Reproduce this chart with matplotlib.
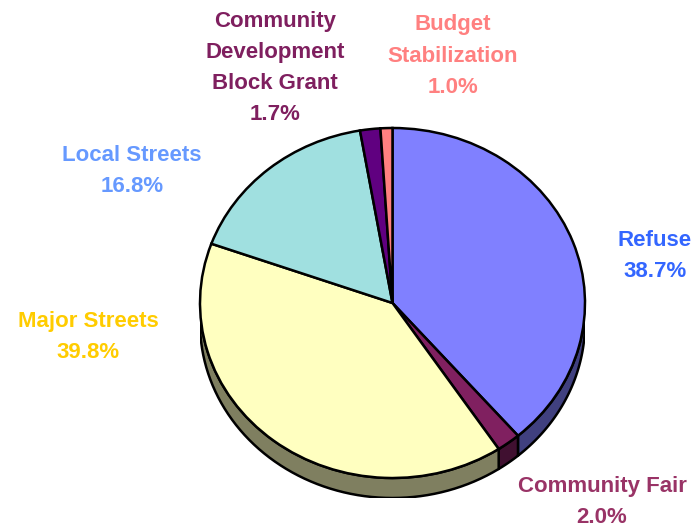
import numpy as np
import matplotlib
matplotlib.use('Agg')
from matplotlib import pyplot as plt
from matplotlib.patches import Polygon

# data
labels = ['Refuse', 'Community Fair', 'Major Streets', 'Local Streets',
          'Community\nDevelopment\nBlock Grant', 'Budget\nStabilization']
shares = [38.7, 2.0, 39.8, 16.8, 1.7, 1.0]
top_colors = ['#8080FF', '#802060', '#FFFFC0', '#A0E0E0', '#600080', '#FF8080']
side_colors = ['#40407F', '#401030', '#7F7F60', '#50706F', '#300040', '#7F4040']
label_colors = ['#3366FF', '#993366', '#FFCC00', '#6699FF', '#7F1F5F', '#FF8080']

W, H = 696, 527
cx, cy = 392.5, 303.0   # ellipse centre in pixels (from top)
rx, ry = 192.5, 175.0
depth = 20.0

fig = plt.figure(figsize=(W / 100, H / 100), dpi=100)
fig.patch.set_facecolor('white')

# pie axes, stretched so the unit circle becomes an ellipse
bottom_px = H - cy - ry - depth
ax = fig.add_axes([(cx - rx) / W, bottom_px / H, 2 * rx / W, (2 * ry + depth) / H])
dd = depth / ry

# side wall (only lower half shows)
cum = np.cumsum([0] + shares) / 100.0
for i in range(len(shares)):
    a_start = 90 - 360 * cum[i]
    a_end = 90 - 360 * cum[i + 1]
    lo = max(a_end, -180)
    hi = min(a_start, 0)
    if lo >= hi:
        continue
    t = np.radians(np.linspace(lo, hi, 60))
    xs = np.cos(t)
    ys = np.sin(t)
    pts = np.concatenate([np.column_stack([xs, ys]),
                          np.column_stack([xs[::-1], ys[::-1] - dd])])
    ax.add_patch(Polygon(pts, closed=True, facecolor=side_colors[i],
                         edgecolor='black', linewidth=1.8, joinstyle='round'))

ax.pie(shares, colors=top_colors, startangle=90, counterclock=False, radius=1,
       wedgeprops=dict(edgecolor='black', linewidth=1.8))
ax.set_xlim(-1, 1)
ax.set_ylim(-1 - dd, 1)
ax.set_aspect('auto')
ax.axis('off')

# labels in pixel coords
ov = fig.add_axes([0, 0, 1, 1])
ov.set_xlim(0, W)
ov.set_ylim(H, 0)
ov.axis('off')
ov.patch.set_alpha(0)

label_pos = [(655, 256), (602, 502), (88, 337), (132, 171), (275, 68), (453, 56)]
for i in range(len(labels)):
    txt = labels[i] + '\n' + '%.1f%%' % shares[i]
    ov.text(label_pos[i][0], label_pos[i][1], txt, color=label_colors[i],
            fontsize=16, fontweight='bold', family='Liberation Sans',
            ha='center', va='center', linespacing=1.63)

fig.savefig('out.png', dpi=100)
